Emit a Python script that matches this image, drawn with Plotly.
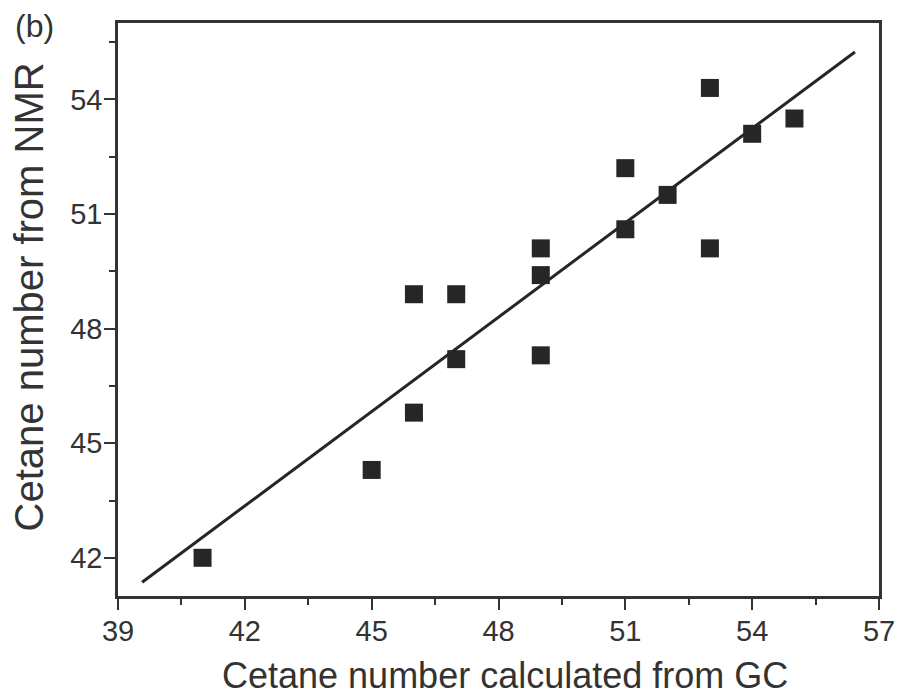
import plotly.graph_objects as go

# Cetane numbers: GC-derived (x) vs NMR-derived (y)
cn_gc = [41, 45, 46, 46, 47, 47, 49, 49, 49, 51, 51, 52, 53, 53, 54, 55]
cn_nmr = [42.0, 44.3, 45.8, 48.9, 48.9, 47.2, 47.3, 49.4, 50.1, 50.6, 52.2, 51.5, 50.1, 54.3, 53.1, 53.5]

# Linear fit line endpoints
fit_x = [39.57, 56.43]
fit_y = [41.36, 55.24]

x_ticks = [39, 42, 45, 48, 51, 54, 57]
y_ticks = [42, 45, 48, 51, 54]

INK = "#262626"
AX = "#333333"
FONT = "Liberation Sans, Arial, sans-serif"

fig = go.Figure()
fig.add_trace(go.Scatter(
    x=fit_x, y=fit_y, mode="lines",
    line=dict(color=INK, width=3),
    showlegend=False, hoverinfo="skip",
))
fig.add_trace(go.Scatter(
    x=cn_gc, y=cn_nmr, mode="markers",
    marker=dict(symbol="square", size=18, color=INK, line=dict(width=0)),
    showlegend=False,
))

axis_common = dict(
    showline=True, linecolor=AX, linewidth=2.5, mirror=True,
    ticks="outside", ticklen=11, tickwidth=2.2, tickcolor=AX,
    showgrid=False, zeroline=False, automargin=False,
    tickfont=dict(family=FONT, size=29, color=AX),
    ticklabelstandoff=-4,
)

fig.update_xaxes(
    range=[39, 57], tickvals=x_ticks, ticktext=[str(v) for v in x_ticks],
    minor=dict(tick0=39, dtick=1.5, ticklen=6, tickwidth=2.2, tickcolor=AX, ticks="outside"),
    **axis_common,
)
fig.update_yaxes(
    range=[41, 56], tickvals=y_ticks, ticktext=[str(v) for v in y_ticks],
    minor=dict(tick0=39, dtick=1.5, ticklen=6, tickwidth=2.2, tickcolor=AX, ticks="outside"),
    **axis_common,
)

# Axis titles and panel label
fig.add_annotation(
    text="Cetane number calculated from GC", xref="paper", yref="paper",
    x=0.5085, y=-0.1396, xanchor="center", yanchor="middle", showarrow=False,
    font=dict(family=FONT, size=36, color=AX),
)
fig.add_annotation(
    text="Cetane number from NMR", xref="paper", yref="paper",
    x=-0.1176, y=0.522, xanchor="center", yanchor="middle", showarrow=False,
    textangle=-90, font=dict(family=FONT, size=40, color=AX),
)
fig.add_annotation(
    text="(b)", xref="paper", yref="paper", x=-0.110, y=0.9948,
    xanchor="center", yanchor="middle", showarrow=False,
    font=dict(family=FONT, size=32, color=AX),
)

fig.update_layout(
    width=897, height=700,
    margin=dict(l=118, r=18, t=23, b=104),
    paper_bgcolor="white", plot_bgcolor="white",
)

fig.write_html("out.html")
